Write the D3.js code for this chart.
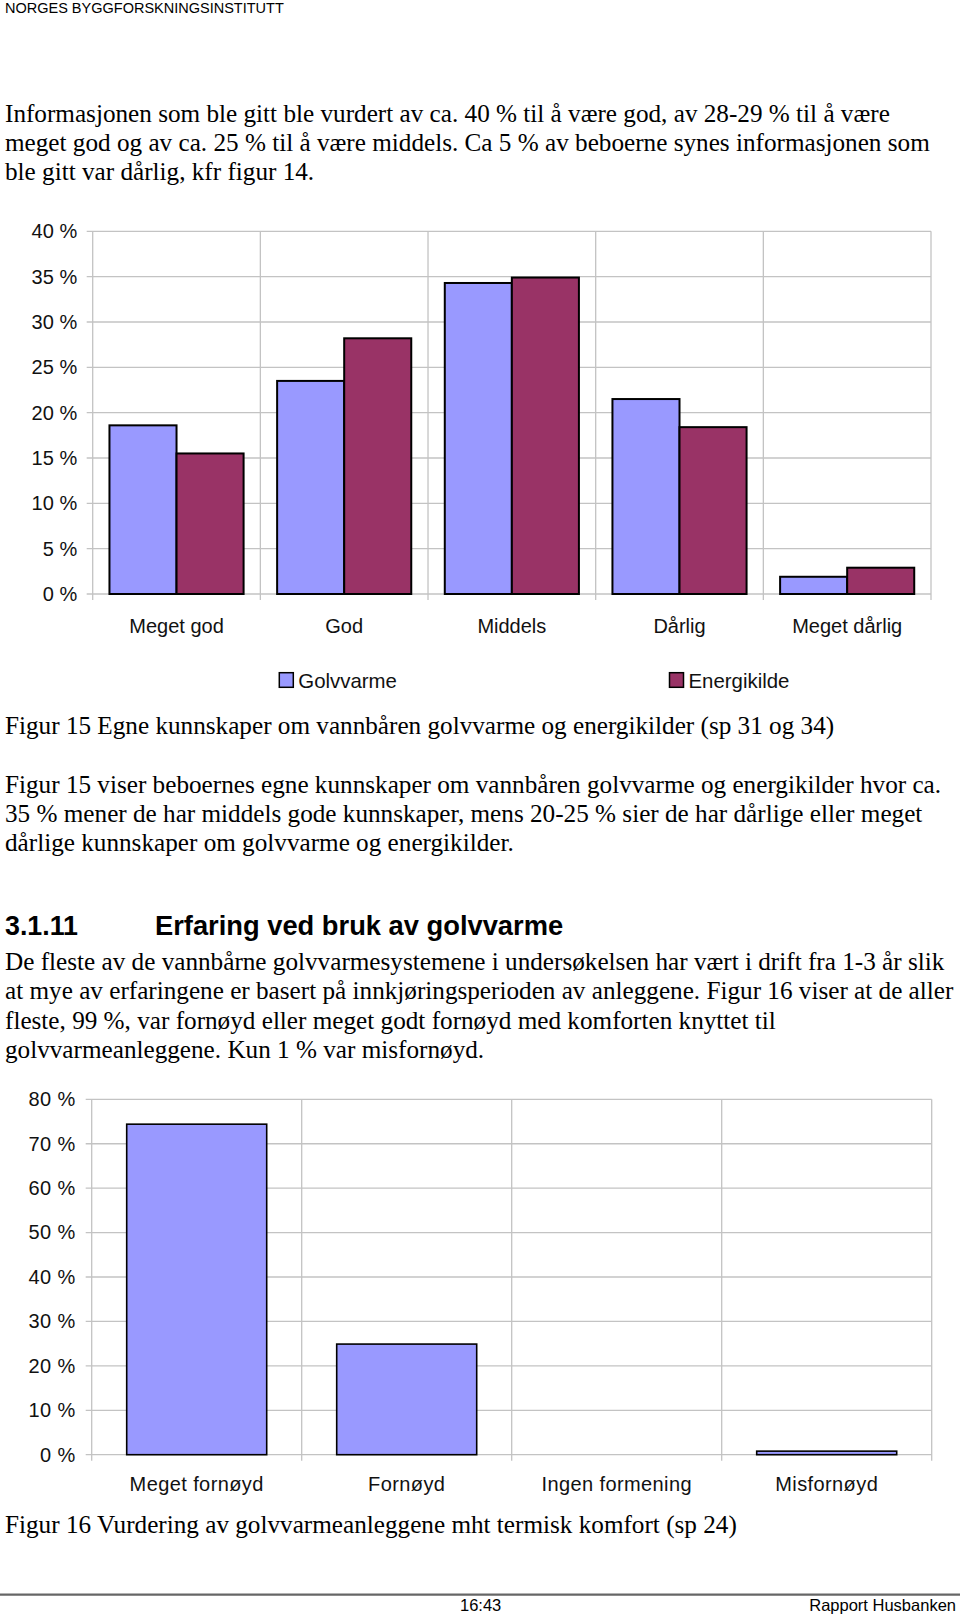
<!DOCTYPE html>
<html>
<head>
<meta charset="utf-8">
<script src="https://cdn.jsdelivr.net/npm/d3@7"></script>
<style>
html,body{margin:0;padding:0;background:#fff;}
svg{display:block;}
</style>
</head>
<body>
<svg id="page" width="960" height="1617"></svg>
<script>
// ---------- DATA ----------
const cats1 = ["Meget god", "God", "Middels", "Dårlig", "Meget dårlig"];
const seriesNames1 = ["Golvvarme", "Energikilde"];
const golvvarme = [18.6, 23.5, 34.3, 21.5, 1.9];
const energikilde = [15.5, 28.2, 34.9, 18.4, 2.9];
const ticks1 = [0, 5, 10, 15, 20, 25, 30, 35, 40];

const cats2 = ["Meget fornøyd", "Fornøyd", "Ingen formening", "Misfornøyd"];
const komfort = [74.4, 24.9, 0, 0.8];
const ticks2 = [0, 10, 20, 30, 40, 50, 60, 70, 80];

const header = "NORGES BYGGFORSKNINGSINSTITUTT";
const para1 = [
  "Informasjonen som ble gitt ble vurdert av ca. 40 % til å være god, av 28-29 % til å være",
  "meget god og av ca. 25 % til å være middels. Ca 5 % av beboerne synes informasjonen som",
  "ble gitt var dårlig, kfr figur 14."
];
const caption15 = "Figur 15 Egne kunnskaper om vannbåren golvvarme og energikilder (sp 31 og 34)";
const para2 = [
  "Figur 15 viser beboernes egne kunnskaper om vannbåren golvvarme og energikilder hvor ca.",
  "35 % mener de har middels gode kunnskaper, mens 20-25 % sier de har dårlige eller meget",
  "dårlige kunnskaper om golvvarme og energikilder."
];
const headingNum = "3.1.11";
const headingText = "Erfaring ved bruk av golvvarme";
const para3 = [
  "De fleste av de vannbårne golvvarmesystemene i undersøkelsen har vært i drift fra 1-3 år slik",
  "at mye av erfaringene er basert på innkjøringsperioden av anleggene. Figur 16 viser at de aller",
  "fleste, 99 %, var fornøyd eller meget godt fornøyd med komforten knyttet til",
  "golvvarmeanleggene. Kun 1 % var misfornøyd."
];
const caption16 = "Figur 16 Vurdering av golvvarmeanleggene mht termisk komfort (sp 24)";
const footerCenter = "16:43";
const footerRight = "Rapport Husbanken";

// ---------- STYLE ----------
const serif = "'Liberation Serif','Times New Roman',serif";
const sans = "'Liberation Sans',Arial,sans-serif";
const gridColor = "#c3c3c3";
const blue = "#9999ff";
const wine = "#993366";
const pct = d => d + " %";

const svg = d3.select("#page");
svg.append("rect").attr("width", 960).attr("height", 1617).attr("fill", "#fff");

// ---------- TEXT ----------
svg.append("text").attr("x", 5).attr("y", 12.5).attr("font-family", sans)
  .attr("font-size", 14.5).text(header);

function para(lines, y0, lh) {
  lines.forEach((t, i) => {
    svg.append("text").attr("x", 5).attr("y", y0 + i * lh)
      .attr("font-family", serif).attr("font-size", 25.2).attr("fill", "#000").text(t);
  });
}
para(para1, 121.5, 29.3);
para([caption15], 734, 0);
para(para2, 793, 28.8);
svg.append("text").attr("x", 5).attr("y", 935).attr("font-family", sans)
  .attr("font-weight", "bold").attr("font-size", 26.8).text(headingNum);
svg.append("text").attr("x", 155).attr("y", 935).attr("font-family", sans)
  .attr("font-weight", "bold").attr("font-size", 27.3).text(headingText);
para(para3, 970, 29.3);
para([caption16], 1533, 0);

svg.append("line").attr("x1", 0).attr("x2", 960).attr("y1", 1594.7).attr("y2", 1594.7)
  .attr("stroke", "#666").attr("stroke-width", 2.2);
svg.append("text").attr("x", 460).attr("y", 1611).attr("font-family", sans)
  .attr("font-size", 16.5).text(footerCenter);
svg.append("text").attr("x", 956).attr("y", 1611).attr("font-family", sans)
  .attr("font-size", 16.5).attr("text-anchor", "end").text(footerRight);

// ---------- CHART 1 ----------
{
  const L = 92.7, R = 931, T = 231.3, B = 594;
  const y = d3.scaleLinear().domain([0, 40]).range([B, T]);
  const x = d3.scaleBand().domain(cats1).range([L, R]).paddingInner(0.2).paddingOuter(0.1);
  const xi = d3.scaleBand().domain(seriesNames1).range([0, x.bandwidth()]);
  const g = svg.append("g");

  g.append("g").selectAll("line").data(ticks1).join("line")
    .attr("x1", L - 6).attr("x2", R).attr("y1", d => y(d)).attr("y2", d => y(d))
    .attr("stroke", gridColor).attr("stroke-width", 1.3);
  const bounds = cats1.map(c => x(c) - x.step() * x.paddingInner() / 2).concat([R]);
  bounds[0] = L;
  g.append("g").selectAll("line").data(bounds).join("line")
    .attr("x1", d => d).attr("x2", d => d).attr("y1", T).attr("y2", B + 6)
    .attr("stroke", gridColor).attr("stroke-width", 1.3);
  const yAxis = d3.axisLeft(y).tickValues(ticks1).tickFormat(pct).tickSize(0).tickPadding(15.5);
  const ya = g.append("g").attr("transform", `translate(${L},0)`).call(yAxis);
  ya.select(".domain").remove();
  ya.selectAll("text").attr("font-family", sans).attr("font-size", 20).attr("fill", "#111");
  const xAxis = d3.axisBottom(x).tickSize(0).tickPadding(25);
  const xa = g.append("g").attr("transform", `translate(0,${B})`).call(xAxis);
  xa.select(".domain").remove();
  xa.selectAll("text").attr("font-family", sans).attr("font-size", 20).attr("fill", "#111");

  const rows = cats1.map((c, i) => ({ cat: c, vals: [golvvarme[i], energikilde[i]] }));
  const colors = d3.scaleOrdinal().domain(seriesNames1).range([blue, wine]);
  g.append("g").selectAll("g").data(rows).join("g")
    .attr("transform", d => `translate(${x(d.cat)},0)`)
    .selectAll("rect").data(d => d.vals.map((v, k) => ({ s: seriesNames1[k], v })))
    .join("rect")
    .attr("x", d => xi(d.s)).attr("width", xi.bandwidth())
    .attr("y", d => y(d.v)).attr("height", d => B - y(d.v))
    .attr("fill", d => colors(d.s)).attr("stroke", "#000").attr("stroke-width", 2);

  const legX = [279.3, 669.5];
  seriesNames1.forEach((s, i) => {
    svg.append("rect").attr("x", legX[i]).attr("y", 672.7).attr("width", 14).attr("height", 14.6)
      .attr("fill", colors(s)).attr("stroke", "#000").attr("stroke-width", 1.5);
    svg.append("text").attr("x", legX[i] + 19).attr("y", 687.5).attr("font-family", sans)
      .attr("font-size", 20.4).attr("fill", "#111").text(s);
  });
}

// ---------- CHART 2 ----------
{
  const L = 91.7, R = 931.7, T = 1099.3, B = 1454.7;
  const y = d3.scaleLinear().domain([0, 80]).range([B, T]);
  const x = d3.scaleBand().domain(cats2).range([L, R]).paddingInner(1 / 3).paddingOuter(1 / 6);
  const g = svg.append("g");

  g.append("g").selectAll("line").data(ticks2).join("line")
    .attr("x1", L - 6).attr("x2", R).attr("y1", d => y(d)).attr("y2", d => y(d))
    .attr("stroke", gridColor).attr("stroke-width", 1.3);
  const bounds = cats2.map(c => x(c) - x.step() * x.paddingInner() / 2).concat([R]);
  bounds[0] = L;
  g.append("g").selectAll("line").data(bounds).join("line")
    .attr("x1", d => d).attr("x2", d => d).attr("y1", T).attr("y2", B + 6)
    .attr("stroke", gridColor).attr("stroke-width", 1.3);

  const yAxis = d3.axisLeft(y).tickValues(ticks2).tickFormat(pct).tickSize(0).tickPadding(16);
  const ya = g.append("g").attr("transform", `translate(${L},0)`).call(yAxis);
  ya.select(".domain").remove();
  ya.selectAll("text").attr("font-family", sans).attr("font-size", 20)
    .attr("letter-spacing", 0.4).attr("fill", "#111");
  const xAxis = d3.axisBottom(x).tickSize(0).tickPadding(22);
  const xa = g.append("g").attr("transform", `translate(0,${B})`).call(xAxis);
  xa.select(".domain").remove();
  xa.selectAll("text").attr("font-family", sans).attr("font-size", 20)
    .attr("letter-spacing", 0.4).attr("fill", "#111");

  g.append("g").selectAll("rect").data(cats2.map((c, i) => ({ c, v: komfort[i] })).filter(d => d.v > 0))
    .join("rect")
    .attr("x", d => x(d.c)).attr("width", x.bandwidth())
    .attr("y", d => y(d.v)).attr("height", d => B - y(d.v))
    .attr("fill", blue).attr("stroke", "#000").attr("stroke-width", 1.6);
}
</script>
</body>
</html>
